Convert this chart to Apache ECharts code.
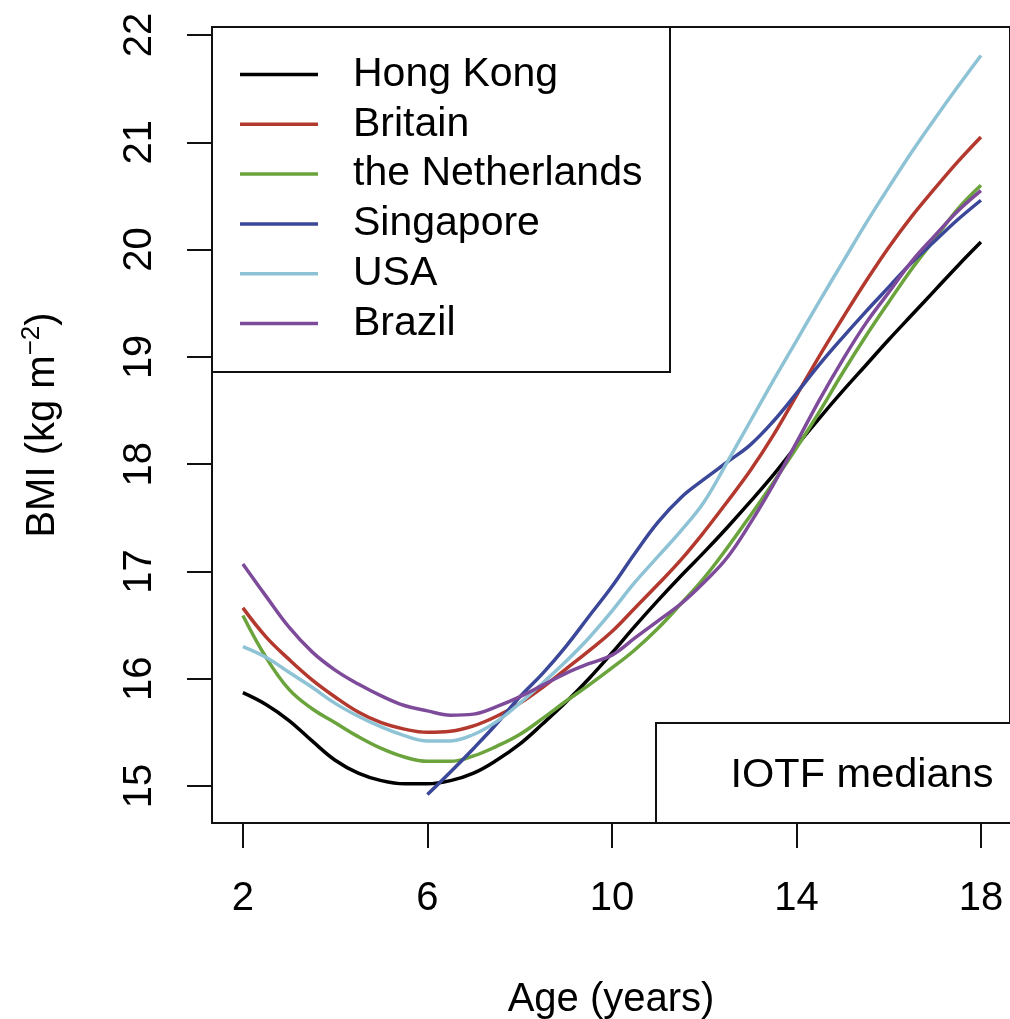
<!DOCTYPE html>
<html>
<head>
<meta charset="utf-8">
<script src="https://cdn.jsdelivr.net/npm/echarts@6/dist/echarts.min.js"></script>
<style>html,body{margin:0;padding:0;background:#fff}#c{width:1010px;height:1019px}</style>
</head>
<body>
<div id="c"></div>
<script>
const ages = [2,2.5,3,3.5,4,4.5,5,5.5,6,6.5,7,7.5,8,8.5,9,9.5,10,10.5,11,11.5,12,12.5,13,13.5,14,14.5,15,15.5,16,16.5,17,17.5,18];
const hongKong    = [15.87,15.76,15.61,15.42,15.24,15.12,15.05,15.02,15.02,15.05,15.12,15.24,15.39,15.58,15.78,16.00,16.24,16.49,16.73,16.96,17.18,17.41,17.65,17.90,18.17,18.43,18.68,18.92,19.16,19.39,19.62,19.85,20.07];
const britain     = [16.66,16.39,16.18,15.99,15.83,15.69,15.59,15.53,15.50,15.51,15.56,15.65,15.77,15.92,16.09,16.26,16.44,16.66,16.88,17.11,17.37,17.65,17.94,18.27,18.64,19.01,19.36,19.70,20.02,20.31,20.57,20.82,21.05];
const netherlands = [16.59,16.20,15.90,15.72,15.59,15.46,15.35,15.27,15.23,15.23,15.28,15.37,15.48,15.63,15.79,15.94,16.10,16.27,16.47,16.70,16.94,17.22,17.52,17.83,18.15,18.49,18.85,19.19,19.51,19.82,20.10,20.38,20.60];
const singapore   = [null,null,null,null,null,null,null,null,14.92,15.13,15.35,15.58,15.83,16.05,16.30,16.58,16.86,17.17,17.46,17.69,17.86,18.02,18.18,18.40,18.66,18.93,19.18,19.42,19.65,19.88,20.08,20.28,20.46];
const usa         = [16.30,16.20,16.06,15.92,15.77,15.65,15.55,15.47,15.42,15.42,15.48,15.60,15.77,15.96,16.16,16.38,16.63,16.90,17.14,17.38,17.65,18.02,18.40,18.78,19.15,19.52,19.88,20.24,20.58,20.91,21.22,21.52,21.81];
const brazil      = [17.07,16.77,16.48,16.25,16.08,15.95,15.84,15.75,15.70,15.66,15.67,15.74,15.83,15.94,16.05,16.14,16.22,16.38,16.54,16.70,16.90,17.13,17.45,17.81,18.20,18.60,18.97,19.31,19.60,19.89,20.13,20.36,20.55];
const seriesNames = ['Hong Kong','Britain','the Netherlands','Singapore','USA','Brazil'];
const seriesColors = ['#000000','#B3382E','#6BA33C','#3B4799','#8EC3D6','#7E4B9B'];
const xTicks = [2,6,10,14,18];
const yTicks = [15,16,17,18,19,20,21,22];

const allValues = [hongKong, britain, netherlands, singapore, usa, brazil];
const FONT = "'Liberation Sans', Arial, sans-serif";

const chart = echarts.init(document.getElementById('c'), null, {renderer:'canvas'});
const option = {
  animation: false,
  backgroundColor: '#fff',
  textStyle: {fontFamily: FONT},
  grid: {left: 212, top: 27, right: 0, bottom: 196, outerBoundsMode: 'none', containLabel: false,
         show: true, borderColor: '#111', borderWidth: 2, backgroundColor: 'transparent'},
  legend: {
    orient: 'vertical', left: 240, top: 54, padding: 0,
    icon: 'rect', itemWidth: 78, itemHeight: 3.5, itemGap: 8.8,
    data: seriesNames,
    textStyle: {fontSize: 41, color: '#000', fontFamily: FONT, lineHeight: 40, padding: [0,0,0,30]},
    z: 10
  },
  xAxis: {
    type: 'value', min: 1.33, max: 18.63,
    splitLine: {show: false},
    axisLine: {show: false},
    axisTick: {show: true, length: 25, customValues: xTicks, lineStyle: {color: '#111', width: 2}},
    axisLabel: {customValues: xTicks, fontSize: 40, color: '#000', margin: 56, fontFamily: FONT},
    name: 'Age (years)', nameLocation: 'middle', nameGap: 157,
    nameTextStyle: {fontSize: 40, color: '#000', fontFamily: FONT}
  },
  yAxis: {
    type: 'value', min: 14.655, max: 22.075,
    splitLine: {show: false},
    axisLine: {show: false},
    axisTick: {show: true, length: 25, customValues: yTicks, lineStyle: {color: '#111', width: 2}},
    axisLabel: {customValues: yTicks, fontSize: 40, color: '#000', margin: 52, rotate: 90, fontFamily: FONT},
    name: 'BMI (kg m{sup|\u22122})', nameLocation: 'middle', nameGap: 145,
    nameTextStyle: {fontSize: 40, color: '#000', fontFamily: FONT, lineHeight: 48,
      rich: {sup: {fontSize: 26, lineHeight: 26, verticalAlign: 'top', color: '#000', fontFamily: FONT}}}
  },
  series: seriesNames.map((n, i) => ({
    name: n, type: 'line', symbol: 'none', smooth: 0.4, connectNulls: false,
    color: seriesColors[i],
    lineStyle: {width: 3.5, color: seriesColors[i]},
    data: ages.map((a, k) => [a, allValues[i][k]]),
    z: 2
  })),
  graphic: [
    {type: 'rect', shape: {x: 212, y: 27, width: 458, height: 345}, style: {fill: '#fff', stroke: '#111', lineWidth: 2}, z: 5},
    {type: 'rect', shape: {x: 656, y: 723, width: 360, height: 100}, style: {fill: '#fff', stroke: '#111', lineWidth: 2}, z: 5},
    {type: 'text', x: 862, y: 776, style: {text: 'IOTF medians', fontSize: 41.5, fontFamily: FONT, fill: '#000', align: 'center', verticalAlign: 'middle'}, z: 6}
  ]
};
chart.setOption(option);
</script>
</body>
</html>
